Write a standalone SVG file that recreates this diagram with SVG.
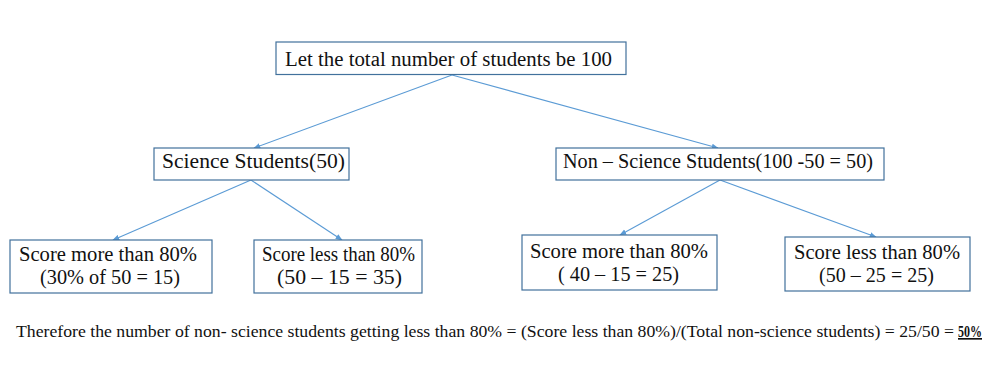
<svg xmlns="http://www.w3.org/2000/svg" width="995" height="366" viewBox="0 0 995 366">
<defs>
<style>
.box{fill:#fff;stroke:#41719C;stroke-width:1.2}
.t{font-family:"Liberation Serif","Times New Roman",serif;font-size:20.5px;fill:#111}
.s{font-family:"Liberation Serif","Times New Roman",serif;font-size:16.5px;fill:#111}
.c{stroke:#5B9BD5;stroke-width:1.1;fill:none;marker-end:url(#ah)}
</style>
<marker id="ah" viewBox="0 0 10 10" refX="9" refY="5" markerWidth="7" markerHeight="7" orient="auto" markerUnits="userSpaceOnUse">
<path d="M0,1 L10,5 L0,9 Z" fill="#5B9BD5"/>
</marker>
</defs>
<rect width="995" height="366" fill="#fff"/>
<g id="connectors">
<line class="c" x1="452" y1="75" x2="254" y2="148"/>
<line class="c" x1="452" y1="75" x2="718" y2="148"/>
<line class="c" x1="251" y1="180" x2="113" y2="240"/>
<line class="c" x1="251" y1="180" x2="342" y2="240"/>
<line class="c" x1="720" y1="180" x2="620" y2="235"/>
<line class="c" x1="720" y1="180" x2="876" y2="237"/>
</g>
<g id="n-total">
<rect class="box" x="276" y="42" width="350" height="32.5"/>
<text class="t" x="285" y="66" textLength="327" lengthAdjust="spacingAndGlyphs">Let the total number of students be 100</text>
</g>
<g id="n-science">
<rect class="box" x="154" y="148" width="195" height="32"/>
<text class="t" x="162" y="168" textLength="183" lengthAdjust="spacingAndGlyphs">Science Students(50)</text>
</g>
<g id="n-nonscience">
<rect class="box" x="556" y="148" width="328" height="32"/>
<text class="t" x="563" y="168" textLength="310" lengthAdjust="spacingAndGlyphs">Non – Science Students(100 -50 = 50)</text>
</g>
<g id="n-s-more">
<rect class="box" x="10" y="240" width="202" height="53"/>
<text class="t" x="19" y="261" textLength="178" lengthAdjust="spacingAndGlyphs">Score more than 80%</text>
<text class="t" x="40" y="284" textLength="140" lengthAdjust="spacingAndGlyphs">(30% of 50 = 15)</text>
</g>
<g id="n-s-less">
<rect class="box" x="254" y="240" width="168" height="53"/>
<text class="t" x="262" y="261" textLength="153" lengthAdjust="spacingAndGlyphs">Score less than 80%</text>
<text class="t" x="277" y="284" textLength="125" lengthAdjust="spacingAndGlyphs">(50 – 15 = 35)</text>
</g>
<g id="n-n-more">
<rect class="box" x="522" y="235" width="195" height="55"/>
<text class="t" x="530" y="258" textLength="178" lengthAdjust="spacingAndGlyphs">Score more than 80%</text>
<text class="t" x="558" y="281" textLength="121" lengthAdjust="spacingAndGlyphs">( 40 – 15 = 25)</text>
</g>
<g id="n-n-less">
<rect class="box" x="785" y="237" width="185" height="54"/>
<text class="t" x="794" y="259" textLength="166" lengthAdjust="spacingAndGlyphs">Score less than 80%</text>
<text class="t" x="819" y="282" textLength="115" lengthAdjust="spacingAndGlyphs">(50 – 25 = 25)</text>
</g>
<g id="conclusion">
<text class="s" x="16" y="337" textLength="938" lengthAdjust="spacingAndGlyphs">Therefore the number of non- science students getting less than 80%  = (Score less than 80%)/(Total non-science students) = 25/50 = </text>
<text class="s" x="958" y="337" textLength="24" lengthAdjust="spacingAndGlyphs" font-weight="bold" text-decoration="underline">50%</text>
</g>
</svg>
